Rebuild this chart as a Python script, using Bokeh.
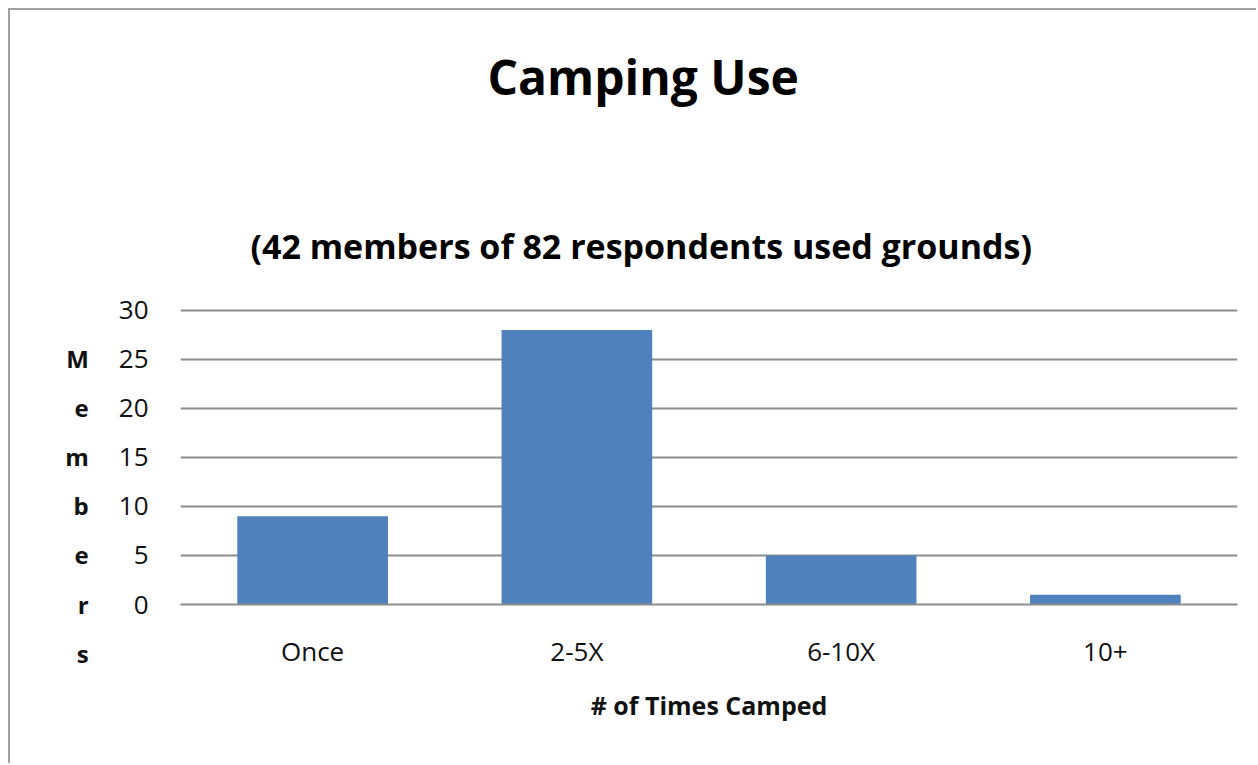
from bokeh.plotting import figure
from bokeh.models import FactorRange, Range1d, Title, CategoricalAxis
from bokeh.embed import file_html
from bokeh.resources import INLINE

# ---- data ----
categories = ["Once", "2-5X", "6-10X", "10+"]
members = [9, 28, 5, 1]
title_text = "Camping Use"
subtitle_text = "(42 members of 82 respondents used grounds)"
x_label = "# of Times Camped"
y_label = "Members"
y_ticks = [0, 5, 10, 15, 20, 25, 30]

BAR = "#4F81BD"
GRID = "#8c8c8c"
FONT = "Open Sans"

p = figure(x_range=FactorRange(*categories, range_padding=0),
           y_range=Range1d(0, 30.2),
           width=1248, height=755,
           min_border_left=170, min_border_right=21,
           min_border_top=298, min_border_bottom=161,
           title_location=None,
           output_backend="svg", toolbar_location=None)
p.styles = {"margin-left": "8px", "margin-top": "8px",
            "border-top": "2px solid #a0a0a0", "border-left": "2px solid #a0a0a0"}
p.outline_line_color = None
p.background_fill_color = "white"
p.border_fill_color = "white"

p.vbar(x=categories, top=members, width=0.57, color=BAR, line_color=None)

# grid
p.xgrid.grid_line_color = None
p.ygrid.grid_line_color = GRID
p.ygrid.grid_line_width = 2
p.yaxis.ticker = y_ticks

# y axis
yax = p.yaxis[0]
yax.axis_line_color = None
yax.major_tick_line_color = None
yax.minor_tick_line_color = None
yax.major_tick_out = 0
yax.major_label_standoff = 32
yax.major_label_text_font = FONT
yax.major_label_text_font_size = "26px"
yax.major_label_text_color = "#111111"
yax.axis_label = "\n\n" + "\n".join(y_label)
yax.axis_label_text_font = FONT
yax.axis_label_text_font_size = "24px"
yax.axis_label_text_font_style = "bold"
yax.axis_label_text_color = "#111111"
yax.axis_label_text_line_height = 1.49
yax.axis_label_standoff = 27
if "axis_label_orientation" in yax.properties():
    yax.axis_label_orientation = "horizontal"

# x axis
xax = p.xaxis[0]
xax.axis_line_color = GRID
xax.axis_line_width = 2
xax.major_tick_line_color = None
xax.major_tick_out = 0
xax.major_label_standoff = 28
xax.major_label_text_font = FONT
xax.major_label_text_font_size = "26px"
xax.major_label_text_color = "#111111"
xax.axis_label = x_label
xax.axis_label_text_font = FONT
xax.axis_label_text_font_size = "25px"
xax.axis_label_text_font_style = "bold"
xax.axis_label_text_color = "#111111"
xax.axis_label_standoff = 16

# header: subtitle (nearest the frame), an empty spacer axis, then the title
p.add_layout(Title(text=subtitle_text, align="left", offset=70,
                   text_font=FONT, text_font_size="34px", text_font_style="bold",
                   text_color="#000000", standoff=80), "above")

spacer = CategoricalAxis(axis_line_color=None, major_tick_line_color=None,
                         minor_tick_line_color=None, major_tick_in=0,
                         major_tick_out=72, major_label_standoff=0,
                         major_label_text_font_size="0px",
                         major_label_overrides={c: "" for c in categories})
p.add_layout(spacer, "above")

p.add_layout(Title(text=title_text, align="left", offset=307,
                   text_font=FONT, text_font_size="48px", text_font_style="bold",
                   text_color="#000000", standoff=0), "above")

open("out.html", "w").write(file_html(p, INLINE))
